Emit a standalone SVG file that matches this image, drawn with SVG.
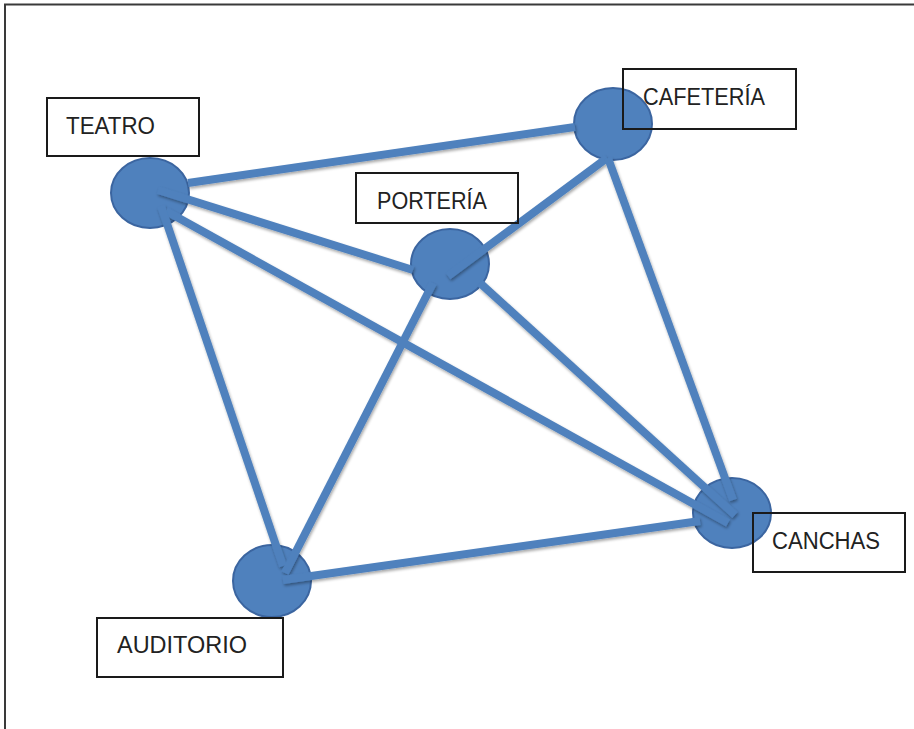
<svg xmlns="http://www.w3.org/2000/svg" width="914" height="729" viewBox="0 0 914 729">
  <defs>
    <filter id="shadow" x="-10%" y="-10%" width="120%" height="130%">
      <feGaussianBlur in="SourceAlpha" stdDeviation="1.5"/>
      <feOffset dx="1" dy="2" result="b"/>
      <feComponentTransfer><feFuncA type="linear" slope="0.35"/></feComponentTransfer>
      <feMerge><feMergeNode/><feMergeNode in="SourceGraphic"/></feMerge>
    </filter>
  </defs>
  <style>
    .frame { fill: none; stroke: #3a3a3a; stroke-width: 2; }
    .node { fill: #4F81BD; stroke: #3B65A0; stroke-width: 2; }
    .edge { stroke: #4F81BD; stroke-width: 8; fill: none; }
    .box { fill: none; stroke: #1a1a1a; stroke-width: 2; }
    .label { font-family: "Liberation Sans", Arial, sans-serif; font-size: 23.5px; fill: #222; }
  </style>

  <rect x="0" y="0" width="914" height="729" fill="#ffffff"/>
  <!-- page frame: top and left edges -->
  <path class="frame" d="M5 729 V4.5 H914"/>

  <!-- node discs -->
  <g id="discs">
    <ellipse class="node" cx="150" cy="193" rx="39" ry="35"/>
    <ellipse class="node" cx="613" cy="124" rx="39" ry="36"/>
    <ellipse class="node" cx="450" cy="264" rx="39" ry="35"/>
    <ellipse class="node" cx="732" cy="513" rx="39" ry="35"/>
    <ellipse class="node" cx="272" cy="581" rx="39" ry="36"/>
  </g>

  <!-- connectors -->
  <g id="connectors" filter="url(#shadow)">
    <line class="edge" x1="188" y1="183" x2="575" y2="127"/>
    <line class="edge" x1="158" y1="190" x2="413" y2="270"/>
    <line class="edge" x1="166" y1="211" x2="728" y2="523"/>
    <line class="edge" x1="161" y1="206" x2="283" y2="566"/>
    <line class="edge" x1="448" y1="276" x2="607" y2="158"/>
    <line class="edge" x1="433" y1="283" x2="285" y2="573"/>
    <line class="edge" x1="480" y1="283" x2="735" y2="515"/>
    <line class="edge" x1="608" y1="158" x2="733" y2="500"/>
    <line class="edge" x1="283" y1="580" x2="700" y2="521"/>
  </g>

  <g id="teatro">
    <rect class="box" x="47" y="98" width="152" height="58"/>
    <text class="label" x="66" y="134" textLength="89" lengthAdjust="spacingAndGlyphs">TEATRO</text>
  </g>
  <g id="cafeteria">
    <rect class="box" x="623" y="69" width="173" height="60"/>
    <text class="label" x="643" y="105" textLength="122" lengthAdjust="spacingAndGlyphs">CAFETERÍA</text>
  </g>
  <g id="porteria">
    <rect class="box" x="356" y="173" width="162" height="50"/>
    <text class="label" x="377" y="209" textLength="110" lengthAdjust="spacingAndGlyphs">PORTERÍA</text>
  </g>
  <g id="canchas">
    <rect class="box" x="753" y="513" width="152" height="59"/>
    <text class="label" x="772" y="549" textLength="108" lengthAdjust="spacingAndGlyphs">CANCHAS</text>
  </g>
  <g id="auditorio">
    <rect class="box" x="97" y="618" width="186" height="59"/>
    <text class="label" x="117" y="653" textLength="130" lengthAdjust="spacingAndGlyphs">AUDITORIO</text>
  </g>
</svg>
